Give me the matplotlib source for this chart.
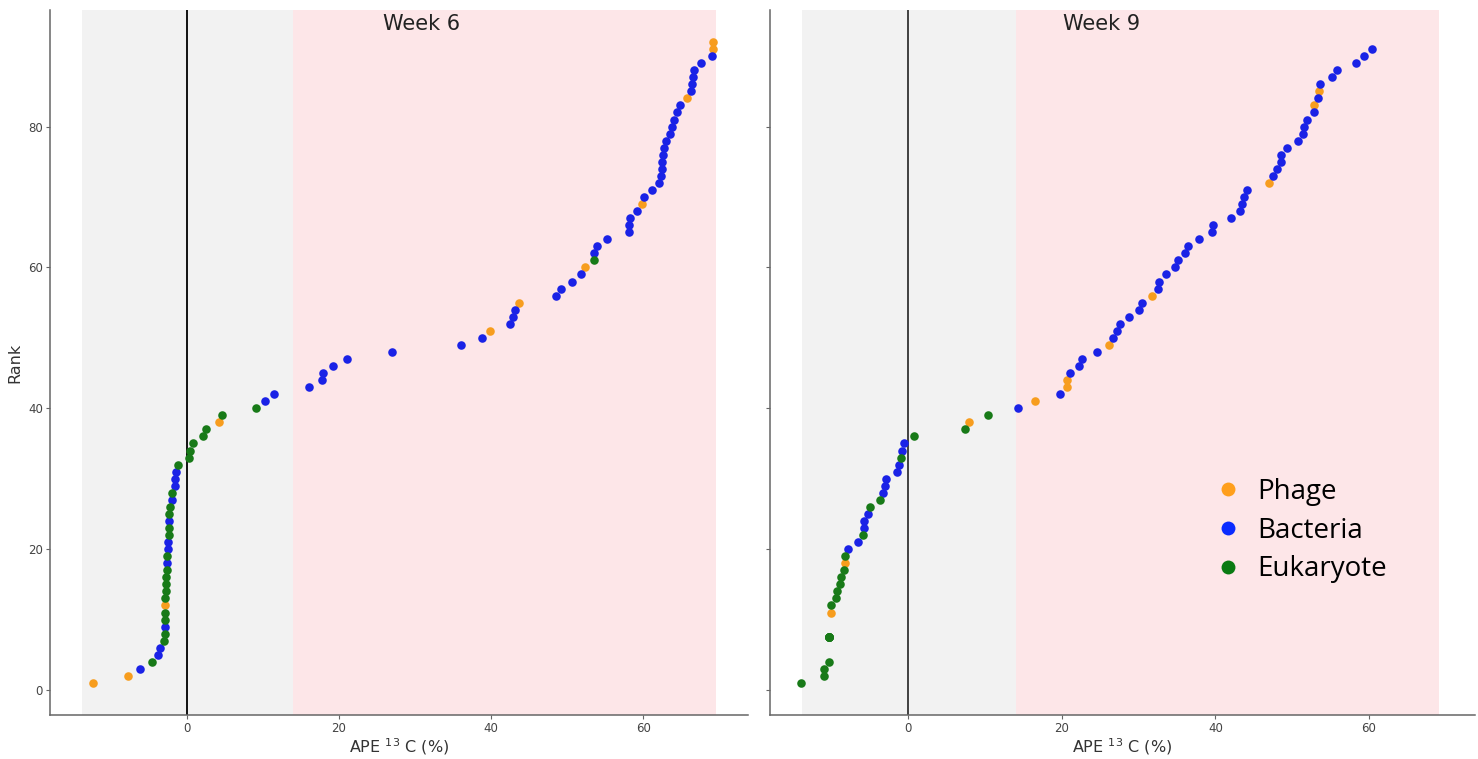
import matplotlib
matplotlib.use("Agg")
import matplotlib.pyplot as plt
from matplotlib.lines import Line2D

# Week 6: APE 13C (%) per rank, with domain of each organism
week6_ape = [-12.4, -7.7, -6.2, -4.6, -3.8, -3.5, -3.0, -2.9, -2.9, -2.9,
             -2.9, -2.9, -2.85, -2.8, -2.8, -2.75, -2.6, -2.6, -2.55, -2.5,
             -2.5, -2.4, -2.35, -2.35, -2.3, -2.2, -1.9, -1.9, -1.5, -1.5,
             -1.45, -1.2, 0.26, 0.4, 0.83, 2.15, 2.5, 4.2, 4.6, 9.1,
             10.3, 11.45, 16.0, 17.8, 17.9, 19.25, 21.0, 27.0, 36.05, 38.8,
             39.9, 42.5, 42.9, 43.1, 43.7, 48.5, 49.25, 50.7, 51.8, 52.3,
             53.5, 53.6, 53.9, 55.2, 58.1, 58.2, 58.3, 59.2, 59.8, 60.1,
             61.2, 62.1, 62.4, 62.5, 62.5, 62.6, 62.7, 63.05, 63.6, 63.8,
             64.1, 64.4, 64.9, 65.75, 66.3, 66.5, 66.6, 66.7, 67.6, 69.1,
             69.2, 69.2]
week6_rank = list(range(1, 93))
week6_group = list("PPBEBBEEBE" "EPEEEEEBEB" "BEEBEEBEBB" "BEEEEEEPEE"
                   "BBBBBBBBBB" "PBBBPBBBBP" "EBBBBBBBPB" "BBBBBBBBBB"
                   "BBBPBBBBBB" "PP")

# Week 9 (ranks 5-10 are tied)
week9_ape = [-13.9, -11.0, -11.0, -10.35, -10.3, -10.3, -10.3, -10.3, -10.3, -10.3,
             -10.1, -10.0, -9.4, -9.3, -8.9, -8.8, -8.3, -8.2, -8.2, -7.9,
             -6.5, -5.9, -5.75, -5.75, -5.2, -5.0, -3.7, -3.3, -3.0, -2.85,
             -1.5, -1.2, -0.9, -0.75, -0.5, 0.7, 7.45, 7.95, 10.35, 14.3,
             16.5, 19.8, 20.7, 20.7, 21.0, 22.2, 22.6, 24.6, 26.2, 26.6,
             27.2, 27.6, 28.8, 30.1, 30.4, 31.75, 32.5, 32.7, 33.6, 34.8,
             35.1, 36.1, 36.4, 37.9, 39.5, 39.7, 42.0, 43.2, 43.5, 43.7,
             44.1, 47.0, 47.5, 48.0, 48.55, 48.6, 49.3, 50.7, 51.4, 51.5,
             51.9, 52.8, 52.85, 53.4, 53.55, 53.6, 55.2, 55.8, 58.25, 59.3,
             60.4]
week9_rank = [1, 2, 3, 4, 7.5, 7.5, 7.5, 7.5, 7.5, 7.5] + list(range(11, 92))
week9_group = list("EEEEEEEEEE" "PEEEEEEPEB" "BEBBBEEBBB" "BBEBBEEPEB"
                   "PBPPBBBBPB" "BBBBBPBBBB" "BBBBBBBBBB" "BPBBBBBBBB"
                   "BBPBPBBBBB" "B")

group_colors = {"P": "#f79d1e", "B": "#1a22e6", "E": "#187a18"}

fig = plt.figure(figsize=(14.78, 7.59), dpi=100)
ax1 = fig.add_axes([50 / 1478, 44 / 759, 698 / 1478, 705 / 759])
ax2 = fig.add_axes([770 / 1478, 44 / 759, 705 / 1478, 705 / 759], sharey=ax1)


def draw_panel(ax, ape, rank, group, title, title_x, vcolor, pink_end):
    ax.axvspan(-13.8, 14, color="#f2f2f2", lw=0, zorder=0)
    ax.axvspan(14, pink_end, color="#fde6e8", lw=0, zorder=0)
    ax.axvline(0, color=vcolor, lw=1.3, zorder=1)
    for g in "PBE":
        xs = [a for a, k in zip(ape, group) if k == g]
        ys = [r for r, k in zip(rank, group) if k == g]
        ax.scatter(xs, ys, s=38, color=group_colors[g], lw=0, zorder=3)
    ax.set_xlim(-18.0, 73.8)
    ax.set_xticks([0, 20, 40, 60])
    ax.set_xlabel("APE $^{13}$ C (%)", fontsize=11.5, color="#333333", labelpad=1)
    ax.text(title_x, 0.995, title, transform=ax.transAxes, ha="center", va="top",
            fontsize=15, color="#222222")
    for side in ["top", "right"]:
        ax.spines[side].set_visible(False)
    for side in ["left", "bottom"]:
        ax.spines[side].set_color("#666666")
        ax.spines[side].set_linewidth(1.1)
    ax.tick_params(length=3, width=0.8, color="#666666", labelsize=8.5,
                   labelcolor="#444444", pad=2)


draw_panel(ax1, week6_ape, week6_rank, week6_group, "Week 6", 0.532, "black", 69.6)
draw_panel(ax2, week9_ape, week9_rank, week9_group, "Week 9", 0.47, "#333333", 69.1)

ax1.set_ylim(-3.55, 96.55)
ax1.set_yticks([0, 20, 40, 60, 80])
ax1.set_ylabel("Rank", fontsize=11.5, color="#333333", labelpad=4)
ax2.tick_params(labelleft=False)

handles = [Line2D([], [], marker="o", ls="none", markersize=10,
                  markerfacecolor=c, markeredgewidth=0)
           for c in ["#ff9f1c", "#0a2bff", "#0a7a12"]]
ax2.legend(handles, ["Phage", "Bacteria", "Eukaryote"], loc="upper left",
           bbox_to_anchor=(1203 / 1478, 1 - 467 / 759), bbox_transform=fig.transFigure,
           frameon=False, prop={"family": "Open Sans", "size": 20},
           handlelength=1.0, handletextpad=0.55, labelspacing=0.38, borderaxespad=0)

fig.savefig("out.png", dpi=100)
